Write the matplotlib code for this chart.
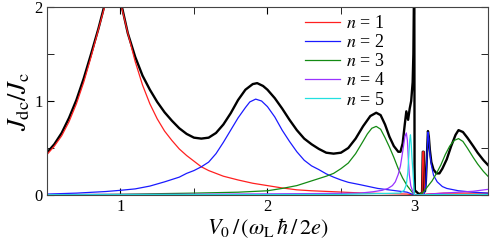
import matplotlib
matplotlib.use("Agg")
import matplotlib.pyplot as plt
from matplotlib.ticker import MultipleLocator

plt.rcParams['font.family'] = ['Liberation Serif', 'DejaVu Serif']
plt.rcParams['mathtext.fontset'] = 'stix'

# values (V0 in units of omega_L hbar / 2e)
v_total = [0.50, 0.55, 0.60, 0.65, 0.70, 0.75, 0.80, 0.85, 0.88, 0.95, 1.01, 1.05, 1.10,
           1.15, 1.20, 1.25, 1.30, 1.35, 1.40, 1.45, 1.50, 1.55, 1.60, 1.65, 1.70, 1.75,
           1.80, 1.85, 1.90, 1.93, 1.97, 2.00, 2.05, 2.10, 2.15, 2.20, 2.25, 2.30, 2.35,
           2.40, 2.45, 2.50, 2.55, 2.60, 2.65, 2.70, 2.74, 2.77, 2.80, 2.83, 2.86, 2.89,
           2.905, 2.92, 2.935, 2.945, 2.957, 2.968, 2.978, 2.988, 2.993, 2.999, 3.001,
           3.003, 3.03, 3.052, 3.057, 3.063, 3.068, 3.072, 3.078, 3.085, 3.092, 3.098,
           3.105, 3.115, 3.13, 3.15, 3.17, 3.19, 3.22, 3.25, 3.28, 3.30, 3.33, 3.36,
           3.40, 3.43, 3.47, 3.50]
j_total = [0.45, 0.54, 0.66, 0.82, 1.01, 1.24, 1.50, 1.77, 1.95, 2.40, 2.00, 1.72, 1.47,
           1.27, 1.12, 0.99, 0.88, 0.79, 0.71, 0.65, 0.61, 0.60, 0.61, 0.66, 0.75, 0.87,
           1.01, 1.12, 1.18, 1.19, 1.16, 1.12, 1.03, 0.92, 0.80, 0.69, 0.60, 0.54, 0.49,
           0.45, 0.44, 0.45, 0.50, 0.60, 0.73, 0.84, 0.875, 0.85, 0.75, 0.62, 0.52, 0.46,
           0.46, 0.55, 0.76, 0.89, 0.80, 0.92, 1.00, 1.20, 1.50, 2.50, 0.30,
           0.05, 0.01, 0.02, 0.46, 0.46, 0.05, 0.04, 0.15, 0.42, 0.68, 0.62,
           0.48, 0.35, 0.27, 0.23, 0.23, 0.28, 0.38, 0.52, 0.64, 0.69, 0.67, 0.61,
           0.52, 0.45, 0.37, 0.32]

v_n1 = [0.50, 0.55, 0.60, 0.65, 0.70, 0.75, 0.80, 0.85, 0.90, 0.95, 1.00, 1.05, 1.10,
        1.15, 1.20, 1.25, 1.30, 1.35, 1.40, 1.45, 1.50, 1.55, 1.60, 1.70, 1.80, 1.90,
        2.00, 2.10, 2.20, 2.30, 2.45, 2.63, 2.80, 2.95, 3.00, 3.05, 3.052, 3.057, 3.063,
        3.068, 3.08, 3.20, 3.35, 3.50]
j_n1 = [0.43, 0.52, 0.63, 0.78, 0.97, 1.20, 1.47, 1.76, 2.05, 2.30, 2.05, 1.72, 1.42,
        1.17, 0.97, 0.81, 0.68, 0.58, 0.49, 0.42, 0.36, 0.30, 0.26, 0.20, 0.16, 0.125,
        0.10, 0.075, 0.055, 0.045, 0.035, 0.022, 0.015, 0.01, 0.0, 0.0, 0.0, 0.46, 0.46,
        0.0, 0.01, 0.02, 0.02, 0.02]

v_n2 = [0.50, 0.70, 0.90, 1.00, 1.10, 1.20, 1.30, 1.40, 1.45, 1.50, 1.55, 1.60, 1.65,
        1.70, 1.75, 1.80, 1.85, 1.88, 1.92, 1.96, 2.00, 2.05, 2.10, 2.15, 2.20, 2.25,
        2.30, 2.35, 2.40, 2.45, 2.50, 2.55, 2.63, 2.75, 2.85, 2.95, 3.00, 3.06, 3.07,
        3.078, 3.085, 3.092, 3.098, 3.105, 3.115, 3.13, 3.155, 3.19, 3.22, 3.30, 3.40,
        3.50]
j_n2 = [0.010, 0.020, 0.037, 0.050, 0.065, 0.095, 0.14, 0.19, 0.23, 0.26, 0.30, 0.35, 0.44,
        0.56, 0.69, 0.82, 0.93, 0.99, 1.02, 1.00, 0.94, 0.83, 0.69, 0.57, 0.46, 0.37,
        0.31, 0.27, 0.225, 0.19, 0.16, 0.135, 0.11, 0.07, 0.05, 0.03, 0.0, 0.0, 0.03,
        0.12, 0.40, 0.67, 0.60, 0.45, 0.32, 0.21, 0.14, 0.09, 0.07, 0.045, 0.03,
        0.02]

v_n3 = [0.50, 1.00, 1.50, 1.80, 2.00, 2.10, 2.20, 2.30, 2.40, 2.45, 2.50, 2.55, 2.60,
        2.65, 2.68, 2.71, 2.74, 2.77, 2.80, 2.83, 2.86, 2.89, 2.92, 2.95, 2.98, 3.00,
        3.03, 3.06, 3.09, 3.12, 3.15, 3.18, 3.21, 3.24, 3.27, 3.30, 3.33, 3.36, 3.40,
        3.43, 3.47, 3.50]
j_n3 = [0.002, 0.008, 0.02, 0.03, 0.045, 0.07, 0.10, 0.15, 0.20, 0.23, 0.28, 0.34, 0.44,
        0.57, 0.65, 0.71, 0.73, 0.70, 0.61, 0.51, 0.40, 0.28, 0.18, 0.10, 0.04, 0.0,
        0.0, 0.03, 0.09, 0.15, 0.23, 0.32, 0.43, 0.52, 0.58, 0.60, 0.57, 0.50, 0.40,
        0.33, 0.25, 0.20]

v_n4 = [0.50, 1.50, 2.30, 2.63, 2.72, 2.78, 2.82, 2.85, 2.87, 2.89, 2.905, 2.92, 2.935,
        2.945, 2.952, 2.958, 2.965, 2.975, 2.99, 3.00, 3.05, 3.10, 3.20, 3.30, 3.40, 3.50]
j_n4 = [0.005, 0.008, 0.015, 0.02, 0.035, 0.05, 0.07, 0.10, 0.14, 0.22, 0.31, 0.46, 0.62,
        0.66, 0.58, 0.40, 0.22, 0.10, 0.03, 0.0, 0.0, 0.01, 0.02, 0.03, 0.04, 0.06]

v_n5 = [0.50, 1.50, 2.50, 2.90, 2.93, 2.945, 2.955, 2.962, 2.968, 2.973, 2.978, 2.984,
        2.99, 2.996, 3.00, 3.10, 3.50]
j_n5 = [0.003, 0.004, 0.006, 0.02, 0.05, 0.11, 0.24, 0.42, 0.58, 0.64, 0.55, 0.38,
        0.25, 0.10, 0.0, 0.004, 0.005]

labels = ['$n$ = 1', '$n$ = 2', '$n$ = 3', '$n$ = 4', '$n$ = 5']
colors = ['#ff2020', '#1a1aff', '#138a13', '#9933ff', '#22e0e0']

fig = plt.figure(figsize=(4.91, 2.47), dpi=100)
ax = fig.add_axes([0.0957, 0.2105, 0.898, 0.7612])

ax.plot(v_total, j_total, color='black', lw=1.7, zorder=1)
series = [(v_n1, j_n1), (v_n2, j_n2), (v_n3, j_n3), (v_n4, j_n4), (v_n5, j_n5)]
for (v, j), c, lab in zip(series, colors, labels):
    ax.plot(v, j, color=c, lw=0.9, label=lab, zorder=2)

ax.set_xlim(0.5, 3.5)
ax.set_ylim(0, 2)
ax.xaxis.set_major_locator(MultipleLocator(1))
ax.xaxis.set_minor_locator(MultipleLocator(0.5))
ax.yaxis.set_major_locator(MultipleLocator(1))
ax.yaxis.set_minor_locator(MultipleLocator(0.5))
ax.tick_params(which='both', direction='in', top=True, right=True, labelsize=12, pad=3)
ax.tick_params(which='both', length=5)
for s in ax.spines.values():
    s.set_color('#444444')
    s.set_linewidth(0.8)

ax.set_xlabel(r'$V_0\,/\,(\omega_{\rm L}\,\hbar\,/\,2e)$', fontsize=16, labelpad=1)
ax.set_ylabel(r'$J_{\rm dc}/J_{\rm c}$', fontsize=19, labelpad=2)

ax.legend(loc='upper left', bbox_to_anchor=(0.585, 0.958), frameon=False, fontsize=13,
          handlelength=1.95, handletextpad=0.3, labelspacing=0.12, borderpad=0,
          borderaxespad=0)

fig.savefig('out.png', dpi=100)
